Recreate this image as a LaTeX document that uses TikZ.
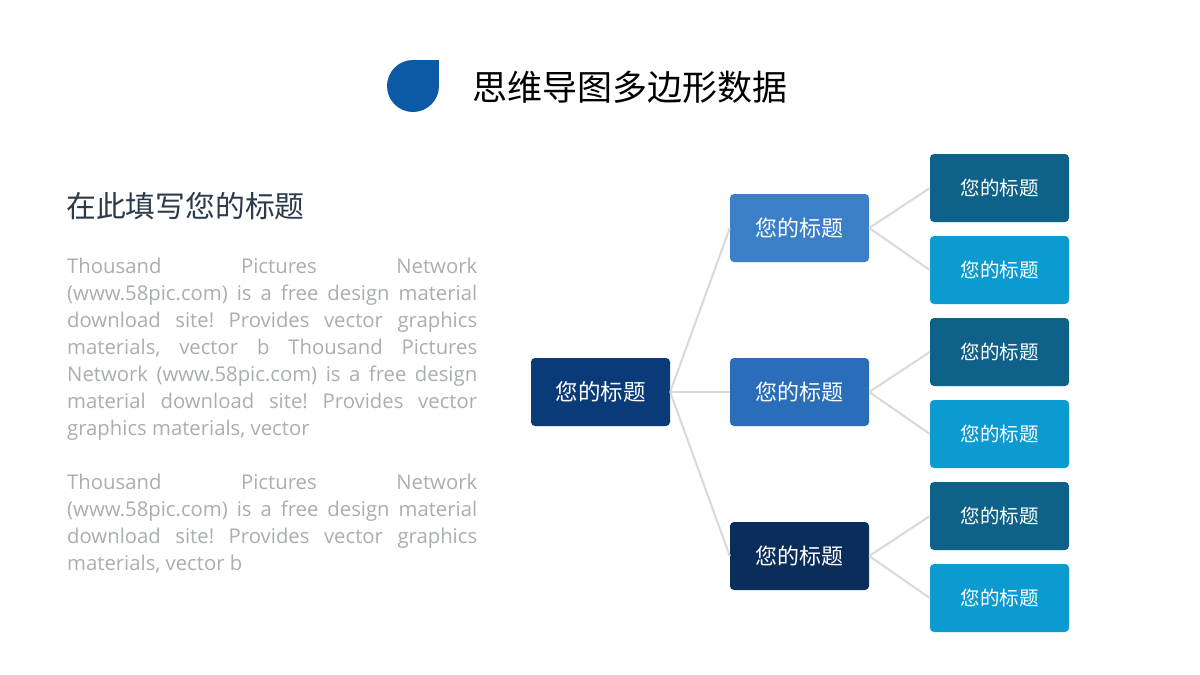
\documentclass[tikz,border=0pt]{standalone}
\usepackage{fontspec}
\setmainfont{Open Sans}
\newfontfamily\cjk{Noto Sans CJK SC}
\definecolor{iconblue}{HTML}{0C5AA6}
\definecolor{headc}{HTML}{2B3A4A}
\definecolor{bodyc}{HTML}{A9AEB2}
\definecolor{rootc}{HTML}{0A3B78}
\definecolor{lva}{HTML}{3B7FC9}
\definecolor{lvb}{HTML}{2A6DB8}
\definecolor{lvc}{HTML}{0B2D5B}
\definecolor{darkt}{HTML}{0E6289}
\definecolor{lightt}{HTML}{0B9BD0}
\definecolor{linec}{HTML}{D9D9D9}
\tikzset{
  box/.style={rounded corners=4pt, minimum width=139pt, minimum height=68pt, inner sep=0pt, text=white},
  rootbox/.style={box, fill=rootc, font=\cjk\fontsize{22.5}{26}\selectfont},
  midbox/.style={box, font=\cjk\fontsize{22}{25}\selectfont},
  leafbox/.style={box, font=\cjk\fontsize{19.5}{23}\selectfont},
  conn/.style={draw=linec, line width=2pt},
  bodyline/.style={anchor=base west, inner sep=0pt, text=bodyc, font=\fontsize{20.3}{27}\selectfont\frenchspacing}
}
\newcommand{\jline}[1]{\makebox[410pt][s]{#1}}
\begin{document}
\begin{tikzpicture}[x=1pt,y=-1pt]
\useasboundingbox[fill=white] (0,0) rectangle (1200,675);
% title icon
\fill[iconblue] (413,86) circle (26);
\fill[iconblue] (413,60) rectangle (439,86);
\node[anchor=west, inner sep=0pt, font=\cjk\fontsize{35}{40}\selectfont] (title) at (472,87) {思维导图多边形数据};
% heading
\node[anchor=west, inner sep=0pt, text=headc, font=\cjk\fontsize{29.8}{34}\selectfont] (heading) at (66,206) {在此填写您的标题};
% body text
\node[bodyline] (l1) at (67,273) {\jline{Thousand Pictures Network}};
\node[bodyline] (l2) at (67,300) {\jline{(www.58pic.com) is a free design material}};
\node[bodyline] (l3) at (67,327) {\jline{download site! Provides vector graphics}};
\node[bodyline] (l4) at (67,354) {\jline{materials, vector b Thousand Pictures}};
\node[bodyline] (l5) at (67,381) {\jline{Network (www.58pic.com) is a free design}};
\node[bodyline] (l6) at (67,408) {\jline{material download site! Provides vector}};
\node[bodyline] (l7) at (67,435) {graphics materials, vector};
\node[bodyline] (l8) at (67,489) {\jline{Thousand Pictures Network}};
\node[bodyline] (l9) at (67,516) {\jline{(www.58pic.com) is a free design material}};
\node[bodyline] (l10) at (67,543) {\jline{download site! Provides vector graphics}};
\node[bodyline] (l11) at (67,570) {materials, vector b};
% mind map
\node[rootbox] (root) at (600.5,392) {您的标题};
\node[midbox, fill=lva] (ma) at (799.5,228) {您的标题};
\node[midbox, fill=lvb] (mb) at (799.5,392) {您的标题};
\node[midbox, fill=lvc] (mc) at (799.5,556) {您的标题};
\node[leafbox, fill=darkt] (a1) at (999.5,188) {您的标题};
\node[leafbox, fill=lightt] (a2) at (999.5,270) {您的标题};
\node[leafbox, fill=darkt] (b1) at (999.5,352) {您的标题};
\node[leafbox, fill=lightt] (b2) at (999.5,434) {您的标题};
\node[leafbox, fill=darkt] (c1) at (999.5,516) {您的标题};
\node[leafbox, fill=lightt] (c2) at (999.5,598) {您的标题};
\draw[conn] (root.east) -- (ma.west);
\draw[conn] (root.east) -- (mb.west);
\draw[conn] (root.east) -- (mc.west);
\draw[conn] (ma.east) -- (a1.west);
\draw[conn] (ma.east) -- (a2.west);
\draw[conn] (mb.east) -- (b1.west);
\draw[conn] (mb.east) -- (b2.west);
\draw[conn] (mc.east) -- (c1.west);
\draw[conn] (mc.east) -- (c2.west);
\end{tikzpicture}
\end{document}
